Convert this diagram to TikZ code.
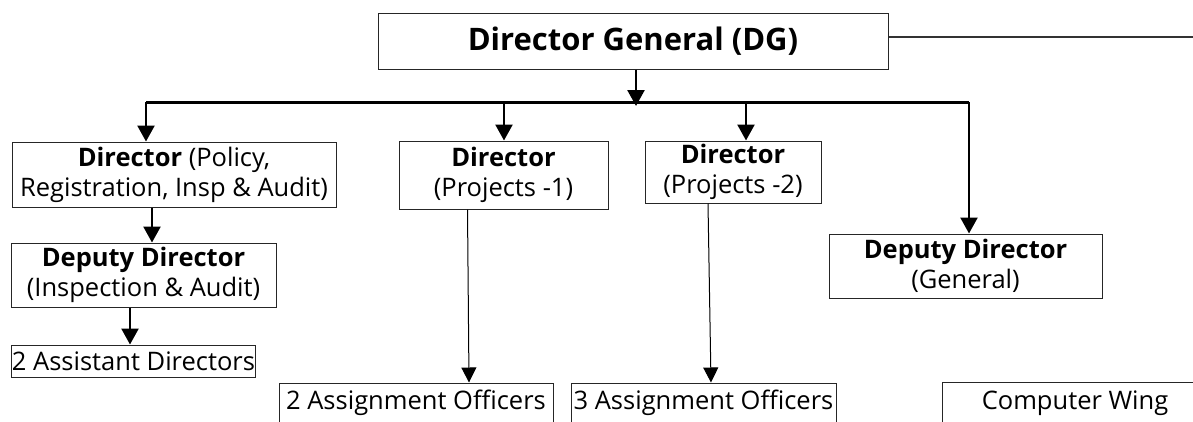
\documentclass[tikz,border=0pt]{standalone}
\usepackage{fontspec}
\setmainfont{Open Sans}
\usepackage{tikz}
\usetikzlibrary{arrows.meta,positioning}

\tikzset{
	box/.style={draw=black!85, line width=1pt, inner sep=0pt, align=center, font=\fontsize{25.5}{30}\selectfont},
	link/.style={-{Triangle[width=17pt,length=16pt]}, line width=2.5pt},
	thinlink/.style={-{Triangle[width=15pt,length=15pt]}, line width=1pt},
}

\begin{document}
\begin{tikzpicture}[x=1pt,y=-1pt]
				\useasboundingbox (0,0) rectangle (1193,421);
				
				\node [box, minimum width=510pt, minimum height=56pt, font=\fontsize{31}{36}\selectfont\bfseries] (dg) at (633,41) {Director General (DG)};
				
				\node [box, minimum width=324pt, minimum height=65pt] (pol) at (174,174.5) {\textbf{Director} (Policy,\\Registration, Insp \& Audit)};
				\node [box, minimum width=209pt, minimum height=68pt] (p1) at (503.5,175) {\textbf{Director}\\(Projects -1)};
				\node [box, minimum width=176pt, minimum height=62pt] (p2) at (733,172) {\textbf{Director}\\(Projects -2)};
				\node [box, minimum width=273pt, minimum height=64pt] (ddg) at (965.5,266) {\textbf{Deputy Director}\\(General)};
				
				\node [box, minimum width=265pt, minimum height=64pt] (ddi) at (143.5,275) {\textbf{Deputy Director}\\(Inspection \& Audit)};
				\node [box, minimum width=243pt, minimum height=32pt] (ad) at (133.5,361) {2 Assistant Directors};
				
				\node [box, minimum width=274pt, minimum height=40pt] (ao2) at (416,403) {2 Assignment Officers};
				\node [box, minimum width=265pt, minimum height=40pt] (ao3) at (703.5,403) {3 Assignment Officers};
				\node [box, minimum width=266pt, minimum height=42pt] (cw) at (1075,403) {Computer Wing};
				
				% % % % % % % % % % % % % % % % % % % % % % % % % %
				
				\coordinate (busL) at (146,102);
				\coordinate (busA) at (504,102);
				\coordinate (busB) at (746,102);
				\coordinate (busR) at (969,102);
				\coordinate (busM) at (636,106);
				\coordinate (rimR) at (1195,37);
				
				\draw [line width=1.5pt, black!80] (dg.east |- rimR) -- (rimR);
				\draw [line width=3pt] (busL) -- (busR);
				\draw [link] ([xshift=3pt]dg.south) -- (busM);
				
				\draw [link] (busL) -- (busL |- pol.north);
				\draw [link] (busA) -- (busA |- p1.north);
				\draw [link] (busB) -- (busB |- p2.north);
				\draw [link] (busR) -- (busR |- ddg.north);
				
				\draw [link] ([xshift=-22pt]pol.south) -- ([xshift=-22pt]pol.south |- ddi.north);
				\draw [link] ([xshift=-13.5pt]ddi.south) -- ([xshift=-13.5pt]ddi.south |- ad.north);
				
				\draw [thinlink] ([xshift=-36pt]p1.south) -- ([xshift=53pt]ao2.north);
				\draw [thinlink] ([xshift=-25pt]p2.south) -- ([xshift=7.5pt]ao3.north);
\end{tikzpicture}
\end{document}
